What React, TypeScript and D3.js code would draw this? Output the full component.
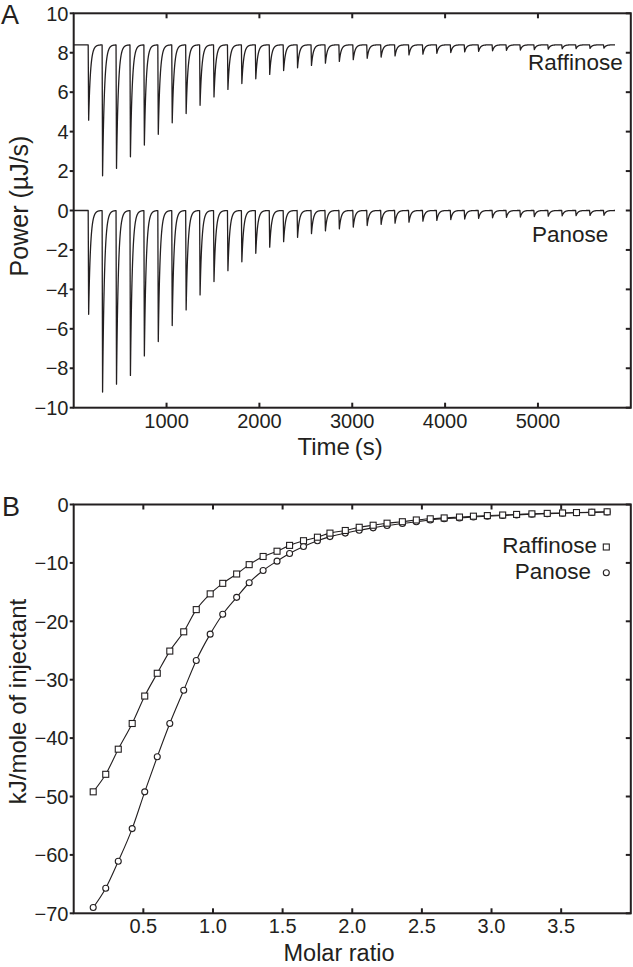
import React from "react";
import * as d3 from "d3";

// ---------- Panel A data (raw ITC thermograms) ----------
const injectionTimes = [
  156, 306, 456, 606, 756, 906, 1056, 1206, 1356, 1506, 1656, 1806, 1956, 2106,
  2256, 2406, 2556, 2706, 2856, 3006, 3156, 3306, 3456, 3606, 3756, 3906, 4056,
  4206, 4356, 4506, 4656, 4806, 4956, 5106, 5256, 5406, 5556, 5706,
];
const traceEnd = 5830;
const raffinoseBaseline = 8.4;
const raffinosePeakMin = [
  4.58, 1.76, 2.14, 2.73, 3.32, 3.87, 4.45, 4.92, 5.34, 5.76, 6.14, 6.44, 6.68,
  6.9, 7.1, 7.24, 7.36, 7.47, 7.56, 7.65, 7.72, 7.78, 7.84, 7.89, 7.93, 7.97,
  8.01, 8.04, 8.07, 8.1, 8.12, 8.14, 8.16, 8.18, 8.2, 8.21, 8.22, 8.23,
];
const panoseBaseline = 0;
const panosePeakMin = [
  -5.26, -9.2, -8.8, -8.36, -7.37, -6.64, -5.83, -5.04, -4.28, -3.6, -3.05,
  -2.6, -2.17, -1.86, -1.58, -1.36, -1.17, -1.03, -0.93, -0.84, -0.76, -0.7,
  -0.64, -0.59, -0.54, -0.5, -0.46, -0.43, -0.4, -0.37, -0.35, -0.33, -0.31,
  -0.29, -0.27, -0.26, -0.25, -0.24,
];
const timeTicks = [1000, 2000, 3000, 4000, 5000];
const powerTicks = [-10, -8, -6, -4, -2, 0, 2, 4, 6, 8, 10];

// ---------- Panel B data (integrated heats) ----------
const molarRatio = [
  0.14, 0.23, 0.32, 0.42, 0.51, 0.6, 0.69, 0.79, 0.88, 0.98, 1.07, 1.17, 1.26,
  1.36, 1.46, 1.55, 1.65, 1.75, 1.84, 1.95, 2.05, 2.15, 2.25, 2.36, 2.46, 2.56,
  2.66, 2.77, 2.87, 2.97, 3.08, 3.18, 3.29, 3.4, 3.51, 3.61, 3.72, 3.83,
];
const raffinoseHeat = [
  -49.2, -46.2, -41.9, -37.5, -32.8, -28.9, -25.1, -21.8, -18.0, -15.3, -13.5,
  -11.9, -10.3, -8.9, -8.0, -7.0, -6.2, -5.6, -4.9, -4.45, -3.9, -3.55, -3.2,
  -2.95, -2.65, -2.45, -2.3, -2.15, -2.0, -1.9, -1.8, -1.7, -1.6, -1.52, -1.45,
  -1.38, -1.32, -1.25,
];
const panoseHeat = [
  -69.0, -65.7, -61.1, -55.5, -49.2, -43.2, -37.5, -31.8, -26.7, -22.2, -18.8,
  -15.9, -13.4, -11.3, -9.7, -8.4, -7.2, -6.2, -5.5, -4.9, -4.4, -4.0, -3.6,
  -3.25, -2.95, -2.65, -2.45, -2.3, -2.15, -2.0, -1.88, -1.78, -1.68, -1.58,
  -1.5, -1.42, -1.35, -1.28,
];
const ratioTicks = [0.5, 1.0, 1.5, 2.0, 2.5, 3.0, 3.5];
const heatTicks = [-70, -60, -50, -40, -30, -20, -10, 0];

const INK = "#231f20";
const FONT = "'Liberation Sans', Arial, Helvetica, sans-serif";

function fmtNum(v: number, digits = 0) {
  const s = Math.abs(v).toFixed(digits);
  return v < 0 ? "\u2212" + s : s;
}

function buildTrace(baseline: number, minima: number[]) {
  const rise = 5;
  const tau = 20;
  const pts: [number, number][] = [];
  for (let t = 0; t <= traceEnd; t += 1) {
    let v = baseline;
    for (let i = 0; i < injectionTimes.length; i++) {
      const s = t - injectionTimes[i];
      if (s < 0 || s > 400) continue;
      const depth = baseline - minima[i];
      const f = s < rise ? s / rise : Math.exp(-(s - rise) / tau);
      v -= depth * f;
    }
    pts.push([t, v]);
  }
  return pts;
}

function Frame({ x0, x1, y0, y1 }: { x0: number; x1: number; y0: number; y1: number }) {
  return (
    <rect x={x0} y={y0} width={x1 - x0} height={y1 - y0} fill="none" stroke={INK} strokeWidth={2} />
  );
}

export default function App() {
  const L = 73.7;
  const R = 630.8;
  const aTop = 13.3;
  const aBot = 407.7;
  const bTop = 504.5;
  const bBot = 913.3;
  const tick = 5;

  const xA = d3.scaleLinear().domain([0, 6000]).range([L, R]);
  const yA = d3.scaleLinear().domain([-10, 10]).range([aBot, aTop]);
  const xB = d3.scaleLinear().domain([0, 4]).range([L, R]);
  const yB = d3.scaleLinear().domain([-70, 0]).range([bBot, bTop]);

  const lineA = d3
    .line<[number, number]>()
    .x((d) => xA(d[0]))
    .y((d) => yA(d[1]));

  const rafTrace = lineA(buildTrace(raffinoseBaseline, raffinosePeakMin)) || "";
  const panTrace = lineA(buildTrace(panoseBaseline, panosePeakMin)) || "";

  const rafPts = molarRatio.map((m, i) => [m, raffinoseHeat[i]] as [number, number]);
  const panPts = molarRatio.map((m, i) => [m, panoseHeat[i]] as [number, number]);
  const lineB = d3
    .line<[number, number]>()
    .x((d) => xB(d[0]))
    .y((d) => yB(d[1]))
    .curve(d3.curveMonotoneX);

  return (
    <svg
      width={633}
      height={967}
      viewBox="0 0 633 967"
      style={{ position: "absolute", left: 0, top: 0, background: "#fff" }}
      fontFamily={FONT}
    >
      <rect x={0} y={0} width={633} height={967} fill="#fff" />

      {/* ---------------- Panel A ---------------- */}
      <text x={1} y={24} fontSize={27} fill={INK}>A</text>
      <path d={rafTrace} fill="none" stroke={INK} strokeWidth={1.3} strokeLinejoin="round" />
      <path d={panTrace} fill="none" stroke={INK} strokeWidth={1.3} strokeLinejoin="round" />
      <Frame x0={L} x1={R} y0={aTop} y1={aBot} />
      {timeTicks.map((t) => (
        <g key={"ta" + t}>
          <line x1={xA(t)} x2={xA(t)} y1={aBot} y2={aBot - tick} stroke={INK} strokeWidth={2} />
          <line x1={xA(t)} x2={xA(t)} y1={aTop} y2={aTop + tick} stroke={INK} strokeWidth={2} />
          <text x={xA(t)} y={427.5} fontSize={20} textAnchor="middle" fill={INK}>
            {t}
          </text>
        </g>
      ))}
      {powerTicks.map((p) => (
        <g key={"pa" + p}>
          <line x1={L} x2={L - 4} y1={yA(p)} y2={yA(p)} stroke={INK} strokeWidth={2} />
          <line x1={R} x2={R - tick} y1={yA(p)} y2={yA(p)} stroke={INK} strokeWidth={2} />
          <text x={68.5} y={yA(p)} dy="0.36em" fontSize={20} textAnchor="end" fill={INK}>
            {fmtNum(p)}
          </text>
        </g>
      ))}
      <text x={622.7} y={70} fontSize={22.5} textAnchor="end" fill={INK}>Raffinose</text>
      <text x={608.3} y={242} fontSize={22.5} textAnchor="end" fill={INK}>Panose</text>
      <text x={340} y={455} fontSize={24} textAnchor="middle" fill={INK}>Time{"\u2009"}(s)</text>
      <text
        transform={`translate(28,206) rotate(-90)`}
        fontSize={25}
        textAnchor="middle"
        fill={INK}
      >
        Power (µJ/s)
      </text>

      {/* ---------------- Panel B ---------------- */}
      <text x={2} y={516} fontSize={27} fill={INK}>B</text>
      <path d={lineB(rafPts) || ""} fill="none" stroke={INK} strokeWidth={1.1} />
      <path d={lineB(panPts) || ""} fill="none" stroke={INK} strokeWidth={1.1} />
      {panPts.map((d, i) => (
        <circle key={"pc" + i} cx={xB(d[0])} cy={yB(d[1])} r={3} fill="#fff" stroke={INK} strokeWidth={1.1} />
      ))}
      {rafPts.map((d, i) => (
        <rect
          key={"rs" + i}
          x={xB(d[0]) - 3}
          y={yB(d[1]) - 3}
          width={6}
          height={6}
          fill="#fff"
          stroke={INK}
          strokeWidth={1.1}
        />
      ))}
      <Frame x0={L} x1={R} y0={bTop} y1={bBot} />
      {ratioTicks.map((m) => (
        <g key={"rb" + m}>
          <line x1={xB(m)} x2={xB(m)} y1={bBot} y2={bBot - tick} stroke={INK} strokeWidth={2} />
          <line x1={xB(m)} x2={xB(m)} y1={bTop} y2={bTop + tick} stroke={INK} strokeWidth={2} />
          <text x={xB(m)} y={933} fontSize={20} textAnchor="middle" fill={INK}>
            {m.toFixed(1)}
          </text>
        </g>
      ))}
      {heatTicks.map((h) => (
        <g key={"hb" + h}>
          <line x1={L} x2={L - 4} y1={yB(h)} y2={yB(h)} stroke={INK} strokeWidth={2} />
          <line x1={R} x2={R - tick} y1={yB(h)} y2={yB(h)} stroke={INK} strokeWidth={2} />
          <text x={68.5} y={yB(h)} dy="0.36em" fontSize={20} textAnchor="end" fill={INK}>
            {fmtNum(h)}
          </text>
        </g>
      ))}
      {/* legend */}
      <text x={597} y={553.3} fontSize={22.5} textAnchor="end" fill={INK}>Raffinose</text>
      <rect x={603.3} y={544} width={6} height={6} fill="#fff" stroke={INK} strokeWidth={1.1} />
      <text x={591} y={579.3} fontSize={22.5} textAnchor="end" fill={INK}>Panose</text>
      <circle cx={606.3} cy={572.7} r={3} fill="#fff" stroke={INK} strokeWidth={1.1} />

      <text x={339} y={961} fontSize={23.5} textAnchor="middle" fill={INK}>Molar ratio</text>
      <text
        transform={`translate(26,701.5) rotate(-90)`}
        fontSize={24}
        textAnchor="middle"
        fill={INK}
      >
        kJ/mole of injectant
      </text>
    </svg>
  );
}
